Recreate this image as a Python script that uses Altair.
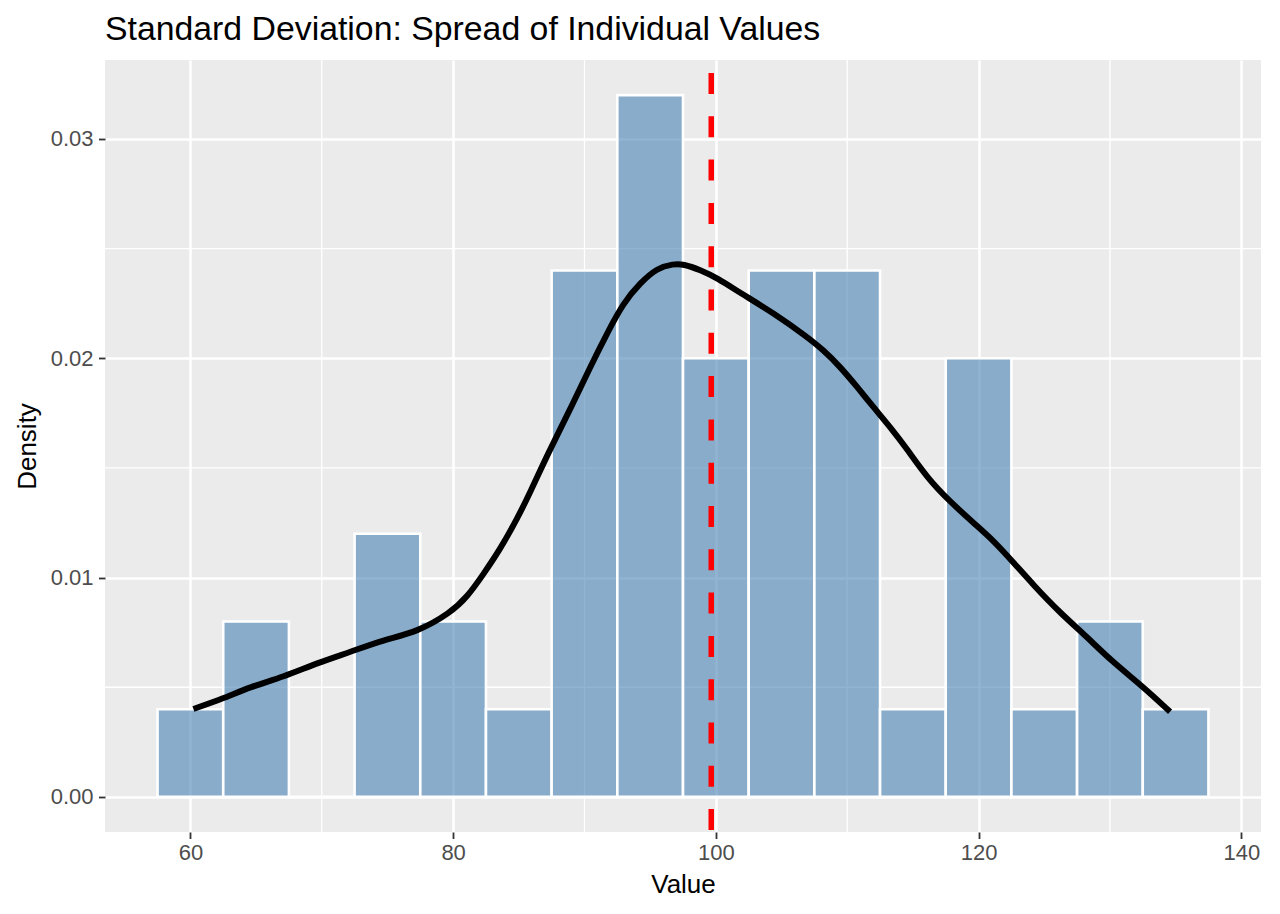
import altair as alt
import pandas as pd

# ---- data ----
bin_start = [57.5, 62.5, 67.5, 72.5, 77.5, 82.5, 87.5, 92.5, 97.5, 102.5, 107.5, 112.5, 117.5, 122.5, 127.5, 132.5]
bin_end = [62.5, 67.5, 72.5, 77.5, 82.5, 87.5, 92.5, 97.5, 102.5, 107.5, 112.5, 117.5, 122.5, 127.5, 132.5, 137.5]
bin_density = [0.004, 0.008, 0.0, 0.012, 0.008, 0.004, 0.024, 0.032, 0.020, 0.024, 0.024, 0.004, 0.020, 0.004, 0.008, 0.004]

curve_x = [60.23, 62.44, 64.57, 67.08, 69.67, 72.18, 74.69, 77.28, 79.79, 81.08, 82.30, 83.59, 84.89, 85.88,
           87.17, 89.15, 90.44, 91.74, 92.95, 94.25, 95.54, 96.76, 97.52, 98.81, 100.11, 101.86, 104.37,
           106.96, 108.17, 109.47, 110.76, 111.98, 113.27, 114.57, 116.09, 117.84, 119.89, 121.11, 122.63,
           124.16, 126.21, 128.26, 130.02, 132.53, 134.58]
curve_y = [0.00401, 0.00447, 0.00502, 0.00547, 0.00611, 0.00661, 0.00716, 0.00752, 0.00839, 0.00912, 0.01015,
           0.01130, 0.01270, 0.01390, 0.01560, 0.01796, 0.01961, 0.02116, 0.02252, 0.02344, 0.02412, 0.02430,
           0.02430, 0.02403, 0.02366, 0.02298, 0.02207, 0.02097, 0.02038, 0.01961, 0.01869, 0.01778, 0.01687,
           0.01585, 0.01455, 0.01345, 0.01235, 0.01170, 0.01071, 0.00967, 0.00839, 0.00729, 0.00625, 0.00502,
           0.00388]

mean_value = [99.65]

x_major = [60, 80, 100, 120, 140]
x_minor = [70, 90, 110, 130]
y_major = [0.00, 0.01, 0.02, 0.03]
y_minor = [0.005, 0.015, 0.025]

x_domain = [53.5, 141.5]
y_domain = [-0.0016, 0.0336]

FONT = "Liberation Sans"

bars_df = pd.DataFrame({"start": bin_start, "end": bin_end, "density": bin_density})
curve_df = pd.DataFrame({"x": curve_x, "y": curve_y})
mean_df = pd.DataFrame({"m": mean_value})
xminor_df = pd.DataFrame({"v": x_minor})
yminor_df = pd.DataFrame({"v": y_minor})

xs = alt.Scale(domain=x_domain, nice=False, zero=False)
ys = alt.Scale(domain=y_domain, nice=False, zero=False)

x_axis = alt.Axis(
    values=x_major, grid=True, gridColor="white", gridWidth=2.5, domain=False,
    tickColor="#333333", tickSize=6.5, tickWidth=1.8, labelFontSize=22, labelColor="#4D4D4D",
    labelPadding=4, labelFlush=False, labelFont=FONT, format="d",
    title="Value", titleFontSize=26, titleColor="black", titleFontWeight="normal", titleFont=FONT,
    titleY=60, titleBaseline="alphabetic",
)
y_axis = alt.Axis(
    values=y_major, grid=True, gridColor="white", gridWidth=2.5, domain=False,
    tickColor="#333333", tickSize=6.5, tickWidth=1.8, labelFontSize=22, labelColor="#4D4D4D",
    labelPadding=5.5, labelFlush=False, labelFont=FONT, format=".2f",
    title="Density", titleFontSize=26, titleColor="black", titleFontWeight="normal", titleFont=FONT,
    titleX=-70, titleY=386, titleAngle=-90, titleBaseline="alphabetic", titleAlign="center",
)

minor_v = alt.Chart(xminor_df).mark_rule(color="white", strokeWidth=1.3).encode(
    x=alt.X("v:Q", scale=xs, axis=x_axis)
)
minor_h = alt.Chart(yminor_df).mark_rule(color="white", strokeWidth=1.3).encode(
    y=alt.Y("v:Q", scale=ys, axis=y_axis)
)

bars = alt.Chart(bars_df).transform_calculate(zero="0").mark_rect(
    fill="steelblue", fillOpacity=0.6, stroke="white", strokeWidth=2.6
).encode(
    x=alt.X("start:Q", scale=xs),
    x2="end:Q",
    y=alt.Y("zero:Q", scale=ys),
    y2="density:Q",
)

curve = alt.Chart(curve_df).mark_line(
    color="black", strokeWidth=6, interpolate="basis", strokeCap="butt"
).encode(
    x=alt.X("x:Q", scale=xs),
    y=alt.Y("y:Q", scale=ys),
)

mean_rule = alt.Chart(mean_df).mark_rule(
    color="#FF0000", strokeWidth=5.5, strokeDash=[21, 22.3], strokeDashOffset=30.3
).encode(
    x=alt.X("m:Q", scale=xs)
)

chart = alt.layer(minor_v, minor_h, bars, curve, mean_rule).properties(
    width=1156,
    height=772,
    autosize=alt.AutoSizeParams(type="none"),
    padding={"left": 105, "top": 60, "right": 19, "bottom": 82},
    title=alt.TitleParams(
        "Standard Deviation: Spread of Individual Values",
        anchor="start", fontSize=33.8, font=FONT, color="black", fontWeight="normal",
        baseline="alphabetic", offset=19, frame="group", dy=36,
    ),
).configure_view(
    fill="#EBEBEB", stroke=None
)

chart.save("out.html", embed_options={"renderer": "svg", "actions": False})
